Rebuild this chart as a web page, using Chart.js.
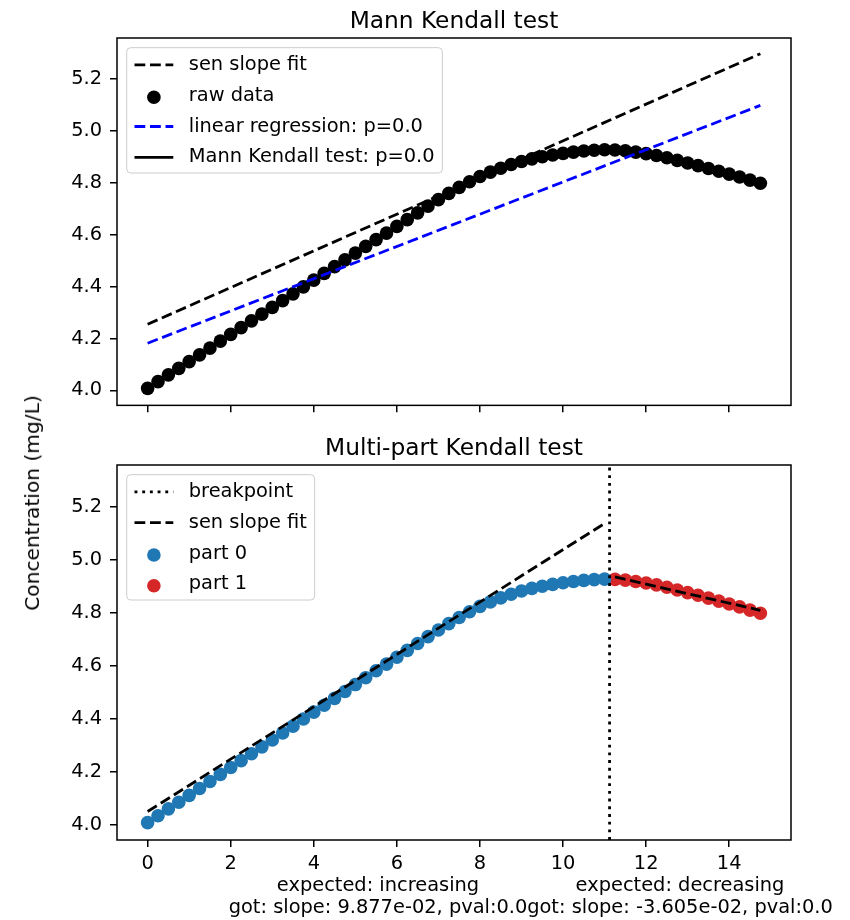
<!DOCTYPE html>
<html>
<head>
<meta charset="utf-8">
<script src="https://cdn.jsdelivr.net/npm/chart.js@4.4.0/dist/chart.umd.min.js"></script>
<style>
  body { margin: 0; background: #fff; }
  #wrap { position: relative; width: 850px; height: 920px; }
  canvas { position: absolute; left: 0; }
  #ylab {
    position: absolute; left: 32px; top: 503px;
    transform: translate(-50%, -50%) rotate(-90deg);
    font: 20.2px "DejaVu Sans"; white-space: nowrap; color: #000;
  }
</style>
</head>
<body>
<div id="wrap">
  <canvas id="topChart" width="850" height="425" style="top:0"></canvas>
  <canvas id="bottomChart" width="850" height="495" style="top:425px"></canvas>
  <div id="ylab">Concentration (mg/L)</div>
</div>
<script>
// sample times, 0 .. 14.75
const times = [0, 0.25, 0.5, 0.75, 1, 1.25, 1.5, 1.75, 2, 2.25, 2.5, 2.75, 3, 3.25, 3.5, 3.75,
  4, 4.25, 4.5, 4.75, 5, 5.25, 5.5, 5.75, 6, 6.25, 6.5, 6.75, 7, 7.25, 7.5, 7.75,
  8, 8.25, 8.5, 8.75, 9, 9.25, 9.5, 9.75, 10, 10.25, 10.5, 10.75, 11, 11.25, 11.5, 11.75,
  12, 12.25, 12.5, 12.75, 13, 13.25, 13.5, 13.75, 14, 14.25, 14.5, 14.75];
// concentration (mg/L)
const conc = [4.008, 4.034, 4.060, 4.085, 4.111, 4.137, 4.163, 4.190, 4.216, 4.242, 4.268, 4.294,
  4.320, 4.346, 4.372, 4.399, 4.425, 4.451, 4.477, 4.503, 4.529, 4.555, 4.581, 4.606,
  4.632, 4.658, 4.684, 4.710, 4.735, 4.759, 4.782, 4.804, 4.824, 4.841, 4.856, 4.870,
  4.882, 4.892, 4.900, 4.907, 4.913, 4.918, 4.922, 4.925, 4.927,
  4.926, 4.923, 4.918, 4.912, 4.905, 4.896, 4.886, 4.876, 4.866, 4.855, 4.844, 4.833,
  4.822, 4.810, 4.798];
const breakIndex = 45;      // first sample of part 1
const breakpointX = 11.12;

// fitted lines (end points)
const senTopX = [0, 14.75];
const senTopY = [4.255, 5.297];
const regTopX = [0, 14.75];
const regTopY = [4.182, 5.098];
const senPart0X = [0, 11];
const senPart0Y = [4.05, 5.137];
const senPart1X = [11.25, 14.75];
const senPart1Y = [4.935, 4.809];

const xTicksStep = 2;
const yTicksStep = 0.2;
const xMin = -0.7375, xMax = 15.4875;
const yMin = 3.9425, yMax = 5.3575;

const notes = [
  ['expected: increasing', 'got: slope: 9.877e-02, pval:0.0'],
  ['expected: decreasing', 'got: slope: -3.605e-02, pval:0.0']
];

const FONT = '"DejaVu Sans"';
const FS = 19.4;
const DOT_R = 6.8;
Chart.defaults.font.family = FONT;
Chart.defaults.font.size = FS;
Chart.defaults.color = '#000';

const pts = (xs, ys) => xs.map((x, i) => ({x: x, y: ys[i]}));

function lineSet(xs, ys, color, dash) {
  return {
    data: pts(xs, ys), showLine: true, borderColor: color, borderWidth: 2.8,
    borderDash: dash, pointRadius: 0, pointHoverRadius: 0, order: 0
  };
}
function dotSet(xs, ys, color) {
  return {
    data: pts(xs, ys), showLine: false, pointRadius: DOT_R, pointHoverRadius: DOT_R,
    pointBackgroundColor: color, pointBorderWidth: 0, order: 1
  };
}

function axes(showXLabels, xHeight) {
  return {
    x: {
      type: 'linear', min: xMin, max: xMax,
      afterFit: s => { s.height = xHeight; },
      border: {display: false},
      grid: {drawOnChartArea: false, drawTicks: true, tickLength: 7, color: '#000', lineWidth: 1.5},
      ticks: {display: showXLabels, stepSize: xTicksStep, includeBounds: false, padding: 5, maxRotation: 0}
    },
    y: {
      type: 'linear', min: yMin, max: yMax,
      afterFit: s => { s.width = 117; },
      border: {display: false},
      grid: {drawOnChartArea: false, drawTicks: true, tickLength: 7, color: '#000', lineWidth: 1.5},
      ticks: {stepSize: yTicksStep, includeBounds: false, padding: 8, callback: v => v.toFixed(1)}
    }
  };
}

function drawLegend(ctx, a, items) {
  const pad = 7.8, handleLen = 38.8, textPad = 15.5, pitch = 30.8;
  const x0 = a.left + 9.7, y0 = a.top + 9.7;
  ctx.font = FS + 'px ' + FONT;
  const maxW = Math.max(...items.map(it => ctx.measureText(it.label).width));
  const w = pad + handleLen + textPad + maxW + pad;
  const h = 17.2 + (items.length - 1) * pitch + 15.7;
  ctx.beginPath();
  ctx.roundRect(x0, y0, w, h, 4);
  ctx.fillStyle = 'rgba(255,255,255,0.8)';
  ctx.fill();
  ctx.lineWidth = 1;
  ctx.strokeStyle = '#cccccc';
  ctx.stroke();
  items.forEach((it, i) => {
    const cy = y0 + 17.2 + i * pitch;
    const hx = x0 + pad;
    if (it.marker) {
      ctx.beginPath();
      ctx.arc(hx + handleLen / 2, cy + 1.5, DOT_R, 0, Math.PI * 2);
      ctx.fillStyle = it.color;
      ctx.fill();
    } else {
      ctx.beginPath();
      ctx.setLineDash(it.dash || []);
      ctx.moveTo(hx, cy);
      ctx.lineTo(hx + handleLen, cy);
      ctx.strokeStyle = it.color;
      ctx.lineWidth = 2.8;
      ctx.stroke();
      ctx.setLineDash([]);
    }
    ctx.fillStyle = '#000';
    ctx.textAlign = 'left';
    ctx.textBaseline = 'middle';
    ctx.fillText(it.label, hx + handleLen + textPad, cy);
  });
}

const decor = {
  id: 'decor',
  afterDraw(chart, args, opts) {
    const ctx = chart.ctx, a = chart.chartArea;
    ctx.save();
    ctx.strokeStyle = '#000';
    ctx.lineWidth = 1.5;
    ctx.strokeRect(a.left, a.top, a.right - a.left, a.bottom - a.top);
    ctx.fillStyle = '#000';
    ctx.font = '23.3px ' + FONT;
    ctx.textAlign = 'center';
    ctx.textBaseline = 'alphabetic';
    ctx.fillText(opts.title, (a.left + a.right) / 2, opts.titleY);
    drawLegend(ctx, a, opts.legend);
    if (opts.notes) {
      ctx.font = FS + 'px ' + FONT;
      ctx.textAlign = 'center';
      ctx.textBaseline = 'alphabetic';
      ctx.fillStyle = '#000';
      opts.notes.forEach((n, i) => {
        const cx = opts.noteX[i];
        ctx.fillText(n[0], cx, a.bottom + 51);
        ctx.fillText(n[1], cx, a.bottom + 73);
      });
    }
    ctx.restore();
  }
};

const senDash = [10.8, 4.7];
const dotDash = [2.9, 4.8];

new Chart(document.getElementById('topChart'), {
  type: 'scatter',
  data: {
    datasets: [
      lineSet(senTopX, senTopY, '#000000', senDash),
      lineSet(regTopX, regTopY, '#0000ff', senDash),
      dotSet(times, conc, '#000000')
    ]
  },
  options: {
    responsive: false, animation: false,
    layout: {padding: {top: 38, right: 59, bottom: 0, left: 0}},
    scales: axes(false, 15),
    plugins: {
      legend: {display: false}, tooltip: {enabled: false},
      decor: {
        title: 'Mann Kendall test', titleY: 28,
        legend: [
          {label: 'sen slope fit', color: '#000', dash: senDash},
          {label: 'raw data', color: '#000', marker: true},
          {label: 'linear regression: p=0.0', color: '#0000ff', dash: senDash},
          {label: 'Mann Kendall test: p=0.0', color: '#000'}
        ]
      }
    }
  },
  plugins: [decor]
});

new Chart(document.getElementById('bottomChart'), {
  type: 'scatter',
  data: {
    datasets: [
      lineSet([breakpointX, breakpointX], [yMin, yMax], '#000000', dotDash),
      lineSet(senPart0X, senPart0Y, '#000000', senDash),
      lineSet(senPart1X, senPart1Y, '#000000', senDash),
      dotSet(times.slice(0, breakIndex), conc.slice(0, breakIndex), '#1f77b4'),
      dotSet(times.slice(breakIndex), conc.slice(breakIndex), '#d62728')
    ]
  },
  options: {
    responsive: false, animation: false,
    layout: {padding: {top: 40, right: 59, bottom: 0, left: 0}},
    scales: axes(true, 80),
    plugins: {
      legend: {display: false}, tooltip: {enabled: false},
      decor: {
        title: 'Multi-part Kendall test', titleY: 30,
        legend: [
          {label: 'breakpoint', color: '#000', dash: dotDash},
          {label: 'sen slope fit', color: '#000', dash: senDash},
          {label: 'part 0', color: '#1f77b4', marker: true},
          {label: 'part 1', color: '#d62728', marker: true}
        ],
        notes: notes, noteX: [378, 680]
      }
    }
  },
  plugins: [decor]
});
</script>
</body>
</html>
